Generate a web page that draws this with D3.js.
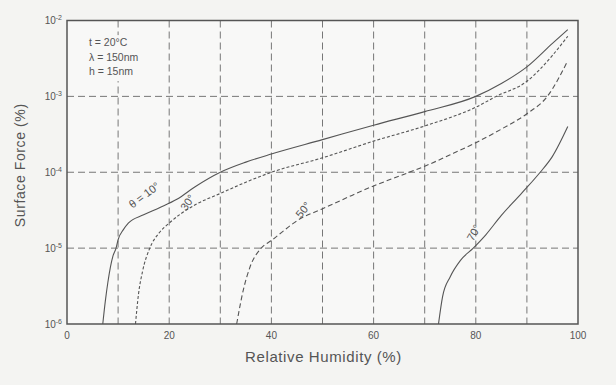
<!DOCTYPE html>
<html>
<head>
<meta charset="utf-8">
<script src="https://cdn.jsdelivr.net/npm/d3@7"></script>
<style>
  body { margin: 0; background: #f4f4f2; }
  svg { display: block; }
  text { font-family: "Liberation Sans", Arial, sans-serif; fill: #555; }
</style>
</head>
<body>
<div id="chart"></div>
<script>
// humidity (%) and surface force
const rh10 = [7, 7.5, 8, 9, 9.6, 10, 11, 12, 15, 18, 21.5, 25, 30, 35, 40, 50, 60, 70, 80, 85, 90, 95, 98];
const sf10 = [1e-6, 2.0e-6, 3.55e-6, 7.9e-6, 1.0e-5, 1.29e-5, 1.74e-5, 2.14e-5, 2.75e-5, 3.39e-5, 4.4e-5, 6.4e-5, 1.0e-4, 1.36e-4, 1.74e-4, 2.69e-4, 4.17e-4, 6.3e-4, 1.0e-3, 1.48e-3, 2.45e-3, 5.0e-3, 7.6e-3];

const rh30 = [13.4, 14, 14.8, 16.2, 18, 20, 25, 30, 35, 40, 50, 60, 70, 80, 84, 90, 95, 98];
const sf30 = [1e-6, 2.5e-6, 5.0e-6, 1.0e-5, 1.58e-5, 2.14e-5, 3.7e-5, 5.25e-5, 7.4e-5, 1.0e-4, 1.55e-4, 2.57e-4, 4.07e-4, 7.2e-4, 1.0e-3, 1.58e-3, 3.47e-3, 6.2e-3];

const rh50 = [33.2, 34.5, 35.8, 38, 40, 45.7, 50, 55, 60, 65, 70, 75, 80, 85, 90, 94, 98];
const sf50 = [1e-6, 2.8e-6, 5.6e-6, 1.0e-5, 1.26e-5, 2.45e-5, 3.3e-5, 4.7e-5, 6.6e-5, 8.9e-5, 1.2e-4, 1.7e-4, 2.45e-4, 3.7e-4, 5.9e-4, 1.0e-3, 2.95e-3];

const rh70 = [72.7, 73.5, 75, 77, 79.5, 82, 85, 88, 90, 92.6, 95, 98];
const sf70 = [1e-6, 2.3e-6, 4.2e-6, 6.9e-6, 1.0e-5, 1.51e-5, 2.7e-5, 4.5e-5, 6.3e-5, 1.0e-4, 1.62e-4, 4.0e-4];

const xTicks = [0, 20, 40, 60, 80, 100];
const xGrid = [10, 20, 30, 40, 50, 60, 70, 80, 90];
const yTicks = [1e-6, 1e-5, 1e-4, 1e-3, 1e-2];
const yTickExp = ["-6", "-5", "-4", "-3", "-2"];
const yGrid = [1e-5, 1e-4, 1e-3];

const notes = ["t = 20°C", "λ = 150nm", "h = 15nm"];

const width = 616, height = 385;
const margin = { top: 20.5, right: 38, bottom: 61, left: 67 };
const w = width - margin.left - margin.right;
const h = height - margin.top - margin.bottom;

const svg = d3.select('#chart').append('svg')
  .attr('width', width)
  .attr('height', height);

const g = svg.append('g')
  .attr('transform', `translate(${margin.left},${margin.top})`);

const x = d3.scaleLinear().domain([0, 100]).range([0, w]);
const y = d3.scaleLog().domain([1e-6, 1e-2]).range([h, 0]);

g.append('rect').attr('width', w).attr('height', h).attr('fill', '#f8f8f7');

// grid
g.selectAll('.vg').data(xGrid).enter().append('line')
  .attr('x1', d => x(d)).attr('x2', d => x(d))
  .attr('y1', 0).attr('y2', h)
  .attr('stroke', '#777').attr('stroke-width', 1)
  .attr('stroke-dasharray', '7,4');

g.selectAll('.hg').data(yGrid).enter().append('line')
  .attr('x1', 0).attr('x2', w)
  .attr('y1', d => y(d)).attr('y2', d => y(d))
  .attr('stroke', '#777').attr('stroke-width', 1)
  .attr('stroke-dasharray', '7,4');

// note box
const nb = g.append('g').attr('transform', `translate(${x(4.3)},${y(4.6e-3)})`);
nb.append('rect').attr('x', -3).attr('y', -11).attr('width', 66).attr('height', 46).attr('fill', '#f8f8f7');
nb.selectAll('text').data(notes).enter().append('text')
  .attr('y', (d, i) => i * 14.5)
  .attr('font-size', 10.5)
  .text(d => d);

// curves
const line = d3.line()
  .x(d => x(d[0]))
  .y(d => y(d[1]))
  .curve(d3.curveMonotoneX);

const series = [
  { rh: rh10, sf: sf10, dash: null },
  { rh: rh30, sf: sf30, dash: '3,2' },
  { rh: rh50, sf: sf50, dash: '5,3' },
  { rh: rh70, sf: sf70, dash: null }
];

series.forEach(s => {
  g.append('path')
    .datum(d3.zip(s.rh, s.sf))
    .attr('fill', 'none')
    .attr('stroke', '#555')
    .attr('stroke-width', 1.1)
    .attr('stroke-dasharray', s.dash)
    .attr('d', line);
});

// curve labels
const curveLabels = [
  { t: 'θ = 10°', rh: 15.1, sf: 5.0e-5, rot: -37 },
  { t: '30°', rh: 23.6, sf: 4.0e-5, rot: -55 },
  { t: '50°', rh: 46.2, sf: 3.2e-5, rot: -50 },
  { t: '70°', rh: 79.6, sf: 1.6e-5, rot: -60 }
];
g.selectAll('.cl').data(curveLabels).enter().append('text')
  .attr('transform', d => `translate(${x(d.rh)},${y(d.sf)}) rotate(${d.rot})`)
  .attr('text-anchor', 'middle')
  .attr('dy', '0.35em')
  .attr('font-size', 11)
  .text(d => d.t);

// frame
g.append('rect').attr('width', w).attr('height', h)
  .attr('fill', 'none').attr('stroke', '#555').attr('stroke-width', 1.5);

// x tick labels
g.selectAll('.xt').data(xTicks).enter().append('text')
  .attr('x', d => x(d))
  .attr('y', h + 15)
  .attr('text-anchor', 'middle')
  .attr('font-size', 10)
  .text(d => d);

// y tick labels
const yt = g.selectAll('.yt').data(yTicks).enter().append('text')
  .attr('x', -5)
  .attr('y', d => y(d) + 3.5)
  .attr('text-anchor', 'end')
  .attr('font-size', 10);
yt.append('tspan').text('10');
yt.append('tspan').attr('dy', -4).attr('font-size', 7).text((d, i) => yTickExp[i]);

// axis titles
g.append('text')
  .attr('x', w / 2 + 1)
  .attr('y', h + 38)
  .attr('text-anchor', 'middle')
  .attr('font-size', 15)
  .attr('letter-spacing', 0.6)
  .text('Relative Humidity   (%)');

g.append('text')
  .attr('transform', `translate(${-margin.left + 25},${h / 2 - 7}) rotate(-90)`)
  .attr('text-anchor', 'middle')
  .attr('font-size', 14)
  .attr('letter-spacing', 0.6)
  .text('Surface Force   (%)');
</script>
</body>
</html>
